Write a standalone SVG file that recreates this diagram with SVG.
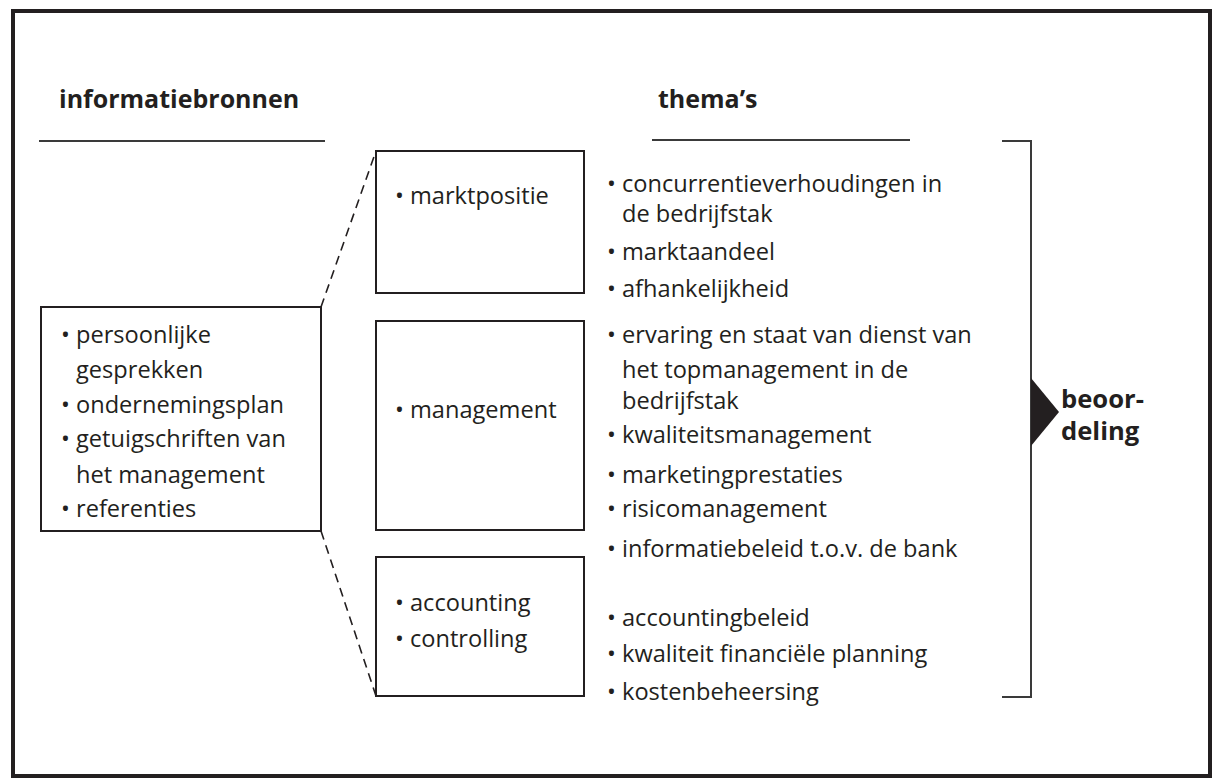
<svg xmlns="http://www.w3.org/2000/svg" width="1213" height="778" viewBox="0 0 1213 778">
<style>
.t{font-family:"Open Sans","Noto Sans","Liberation Sans",sans-serif;font-size:23.6px;fill:#231f20}
.h{font-family:"Open Sans","Noto Sans","Liberation Sans",sans-serif;font-size:25px;font-weight:bold;fill:#231f20}
.hb{font-family:"Open Sans","Noto Sans","Liberation Sans",sans-serif;font-size:25.6px;font-weight:bold;fill:#231f20}
.box{fill:none;stroke:#231f20;stroke-width:2}
.ln{fill:none;stroke:#3a3a3a;stroke-width:2}
.dash{fill:none;stroke:#231f20;stroke-width:1.6;stroke-dasharray:9,6}
</style>
<rect x="0" y="0" width="1213" height="778" fill="#fff"/>
<rect x="13" y="11" width="1197" height="765" fill="none" stroke="#231f20" stroke-width="4"/>
<g id="header-left">
<text class="h" x="59" y="108">informatiebronnen</text>
<line class="ln" x1="39" y1="141" x2="325" y2="141"/>
</g>
<g id="header-right">
<text class="h" x="658" y="108">thema’s</text>
<line class="ln" x1="652" y1="140" x2="910" y2="140"/>
</g>
<g id="connectors">
<line class="dash" x1="321" y1="307" x2="376" y2="151"/>
<line class="dash" x1="321" y1="531" x2="376" y2="696"/>
</g>
<g id="bronnen">
<rect class="box" x="41" y="307" width="280" height="224"/>
<text class="t" x="61" y="343">• persoonlijke</text>
<text class="t" x="76" y="378">gesprekken</text>
<text class="t" x="61" y="413">• ondernemingsplan</text>
<text class="t" x="61" y="447">• getuigschriften van</text>
<text class="t" x="76" y="483">het management</text>
<text class="t" x="61" y="517">• referenties</text>
</g>
<g id="marktpositie">
<rect class="box" x="376" y="151" width="208" height="142"/>
<text class="t" x="395" y="204">• marktpositie</text>
</g>
<g id="management">
<rect class="box" x="376" y="321" width="208" height="209"/>
<text class="t" x="395" y="418">• management</text>
</g>
<g id="accounting">
<rect class="box" x="376" y="557" width="208" height="139"/>
<text class="t" x="395" y="611">• accounting</text>
<text class="t" x="395" y="647">• controlling</text>
</g>
<g id="themas-markt">
<text class="t" x="607" y="192">• concurrentieverhoudingen in</text>
<text class="t" x="622" y="222">de bedrijfstak</text>
<text class="t" x="607" y="260">• marktaandeel</text>
<text class="t" x="607" y="297">• afhankelijkheid</text>
</g>
<g id="themas-management">
<text class="t" x="607" y="343">• ervaring en staat van dienst van</text>
<text class="t" x="622" y="378">het topmanagement in de</text>
<text class="t" x="622" y="409">bedrijfstak</text>
<text class="t" x="607" y="443">• kwaliteitsmanagement</text>
<text class="t" x="607" y="483">• marketingprestaties</text>
<text class="t" x="607" y="517">• risicomanagement</text>
<text class="t" x="607" y="557">• informatiebeleid t.o.v. de bank</text>
</g>
<g id="themas-accounting">
<text class="t" x="607" y="626">• accountingbeleid</text>
<text class="t" x="607" y="662">• kwaliteit financiële planning</text>
<text class="t" x="607" y="700">• kostenbeheersing</text>
</g>
<g id="beoordeling">
<polyline class="ln" points="1002,141 1031,141 1031,697 1002,697"/>
<polygon points="1031,378 1059,412 1031,446" fill="#231f20"/>
<text class="hb" x="1061" y="408">beoor-</text>
<text class="hb" x="1061" y="440">deling</text>
</g>
</svg>
